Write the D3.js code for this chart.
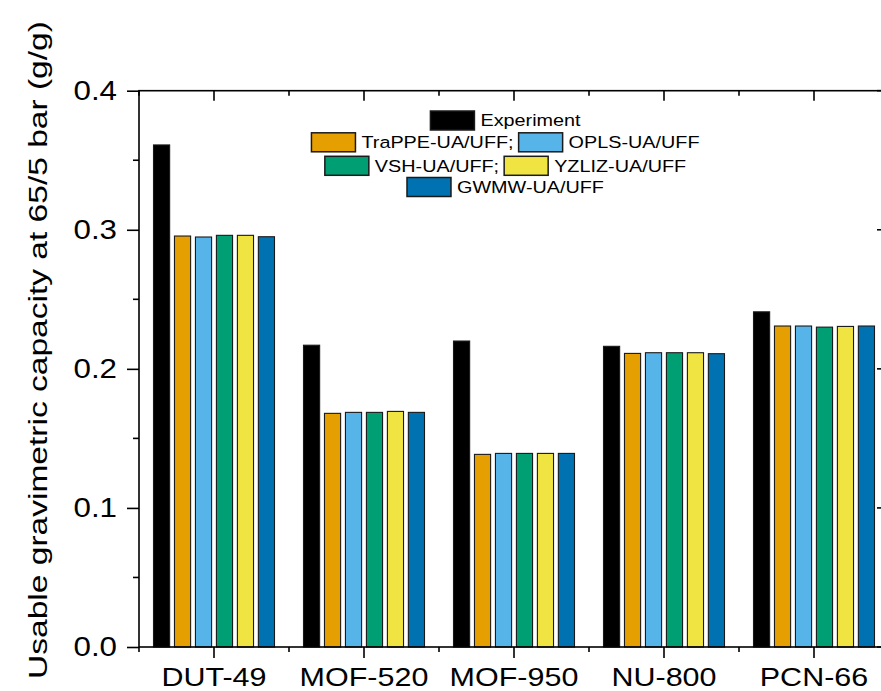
<!DOCTYPE html>
<html>
<head>
<meta charset="utf-8">
<script src="https://cdn.jsdelivr.net/npm/d3@7"></script>
<style>
  body { margin: 0; background: #fff; }
  svg text { font-family: "Liberation Sans", Arial, sans-serif; fill: #000; }
</style>
</head>
<body>
<svg id="bar"></svg>
<script>
// categories (MOFs) and series
let categories = ["DUT-49", "MOF-520", "MOF-950", "NU-800", "PCN-66"];
let seriesNames = ["Experiment", "TraPPE-UA/UFF", "OPLS-UA/UFF", "VSH-UA/UFF", "YZLIZ-UA/UFF", "GWMW-UA/UFF"];
let seriesColors = ["#000000", "#E69F00", "#56B4E9", "#009E73", "#F0E442", "#0072B2"];

let experiment = [0.361, 0.217, 0.220, 0.2162, 0.241];
let trappe     = [0.2955, 0.168, 0.1385, 0.2111, 0.2308];
let opls       = [0.2948, 0.1687, 0.1392, 0.2116, 0.2308];
let vsh        = [0.296, 0.1687, 0.1392, 0.2116, 0.2300];
let yzliz      = [0.296, 0.1694, 0.1392, 0.2116, 0.2305];
let gwmw       = [0.295, 0.1687, 0.1392, 0.2109, 0.2308];

let yTicks = [0, 0.1, 0.2, 0.3, 0.4];
let yMinorTicks = [0.05, 0.15, 0.25, 0.35];

// legend rows, as labels with the series index they point to
let legendRows = [
  [["Experiment", 0]],
  [["TraPPE-UA/UFF;", 1], ["OPLS-UA/UFF", 2]],
  [["VSH-UA/UFF;", 3], ["YZLIZ-UA/UFF", 4]],
  [["GWMW-UA/UFF", 5]]
];

let allSeries = [experiment, trappe, opls, vsh, yzliz, gwmw];

draw();

function draw() {
  const width = 881;
  const height = 691;
  let svg = d3.select("svg#bar").attr("width", width).attr("height", height);

  // plot box, right edge falls just outside the picture
  let left = 139, right = 889, top = 90.7, bottom = 647;
  let stretch = 1.2; // the original text is drawn a bit wide

  let y = d3.scaleLinear().domain([0, 0.4]).range([bottom, top]);
  let x0 = d3.scaleBand().domain(categories).range([left, right]);
  let x1 = d3.scaleBand().domain(d3.range(seriesNames.length))
    .range([14.5, 135.5]).paddingInner(0.23).paddingOuter(0);

  // bars
  let groups = svg.append("g").attr("id", "bars")
    .selectAll("g").data(categories).enter().append("g")
    .attr("transform", d => "translate(" + x0(d) + ",0)");

  groups.selectAll("rect")
    .data((c, ci) => allSeries.map((s, si) => ({ si: si, v: s[ci] })))
    .enter().append("rect")
    .attr("x", d => x1(d.si))
    .attr("y", d => y(d.v))
    .attr("width", x1.bandwidth())
    .attr("height", d => bottom - y(d.v))
    .attr("fill", d => seriesColors[d.si])
    .attr("stroke", "#1a1a1a")
    .attr("stroke-width", 1.1);

  // boundaries between categories for minor ticks
  let bounds = categories.map(c => x0(c)).concat([right]);
  let centers = categories.map(c => x0(c) + x0.bandwidth() / 2);
  let centerScale = d3.scaleLinear().domain([left, right]).range([left, right]);

  function tickLines(g, axis) { g.select(".domain").remove(); return g; }

  let axisStroke = 1.6;

  // bottom axis: major ticks at category centres, minor at boundaries
  let xAxis = d3.axisBottom(x0).tickSize(11).tickPadding(10).tickSizeOuter(0);
  let xGroup = svg.append("g").attr("transform", "translate(0," + bottom + ")").call(xAxis);
  xGroup.select(".domain").remove();
  xGroup.selectAll("line").attr("stroke-width", axisStroke);
  xGroup.selectAll("text")
    .attr("font-size", 25)
    .attr("transform", "scale(" + (stretch + 0.02) + ",1)");
  xGroup.selectAll(".minor").data(bounds).enter().append("line")
    .attr("x1", d => d).attr("x2", d => d).attr("y1", 0).attr("y2", 5)
    .attr("stroke", "#000").attr("stroke-width", axisStroke);

  // top axis: ticks inward
  let tGroup = svg.append("g").attr("transform", "translate(0," + top + ")");
  tGroup.selectAll(".maj").data(centers).enter().append("line")
    .attr("x1", d => d).attr("x2", d => d).attr("y1", 0).attr("y2", 10)
    .attr("stroke", "#000").attr("stroke-width", axisStroke);
  tGroup.selectAll(".min").data(bounds).enter().append("line")
    .attr("x1", d => d).attr("x2", d => d).attr("y1", 0).attr("y2", 5)
    .attr("stroke", "#000").attr("stroke-width", axisStroke);

  // left axis
  let yAxis = d3.axisLeft(y).tickValues(yTicks).tickFormat(d3.format(".1f"))
    .tickSize(12).tickPadding(10).tickSizeOuter(0);
  let yGroup = svg.append("g").attr("transform", "translate(" + left + ",0)").call(yAxis);
  yGroup.select(".domain").remove();
  yGroup.selectAll("line").attr("stroke-width", axisStroke);
  let yk = 1.16;
  yGroup.selectAll("text")
    .attr("font-size", 27)
    .attr("x", -22 / yk)
    .attr("transform", "scale(" + yk + ",1)");
  yGroup.selectAll(".minor").data(yMinorTicks).enter().append("line")
    .attr("x1", -6).attr("x2", 0).attr("y1", d => y(d)).attr("y2", d => y(d))
    .attr("stroke", "#000").attr("stroke-width", axisStroke);

  // right axis: ticks inward
  let rGroup = svg.append("g").attr("transform", "translate(" + right + ",0)");
  rGroup.selectAll(".maj").data(yTicks).enter().append("line")
    .attr("x1", -12).attr("x2", 0).attr("y1", d => y(d)).attr("y2", d => y(d))
    .attr("stroke", "#000").attr("stroke-width", axisStroke);
  rGroup.selectAll(".min").data(yMinorTicks).enter().append("line")
    .attr("x1", -6).attr("x2", 0).attr("y1", d => y(d)).attr("y2", d => y(d))
    .attr("stroke", "#000").attr("stroke-width", axisStroke);

  // frame
  svg.append("rect")
    .attr("x", left).attr("y", top)
    .attr("width", right - left).attr("height", bottom - top)
    .attr("fill", "none").attr("stroke", "#000").attr("stroke-width", axisStroke);

  // y axis title
  let title = svg.append("text")
    .attr("font-size", 25.5)
    .attr("text-anchor", "middle")
    .text("Usable gravimetric capacity at 65/5 bar (g/g)");
  let tw = title.node().getComputedTextLength();
  let tk = 658 / tw;
  title.attr("transform", "translate(47,350) rotate(-90) scale(" + tk + ",1)");

  // legend
  let legend = svg.append("g").attr("id", "legend");
  let legendCenter = 505.5;
  let rowY = [120.5, 142.3, 165.8, 187];
  let swW = 44, swH = 19, fs = 16.5;

  legendRows.forEach(function(row, ri) {
    let g = legend.append("g");
    let cursor = 0;
    row.forEach(function(item, ii) {
      if (ii > 0) cursor += 5;
      g.append("rect")
        .attr("x", cursor).attr("y", -swH / 2)
        .attr("width", swW).attr("height", swH)
        .attr("fill", seriesColors[item[1]])
        .attr("stroke", "#1a1a1a").attr("stroke-width", 1.5);
      cursor += swW + 6;
      let t = g.append("text")
        .attr("font-size", fs)
        .attr("dy", "0.36em")
        .text(item[0]);
      let w = t.node().getComputedTextLength() * stretch;
      t.attr("transform", "translate(" + cursor + ",0) scale(" + stretch + ",1)");
      cursor += w;
    });
    g.attr("transform", "translate(" + (legendCenter - cursor / 2) + "," + rowY[ri] + ")");
  });
}
</script>
</body>
</html>
